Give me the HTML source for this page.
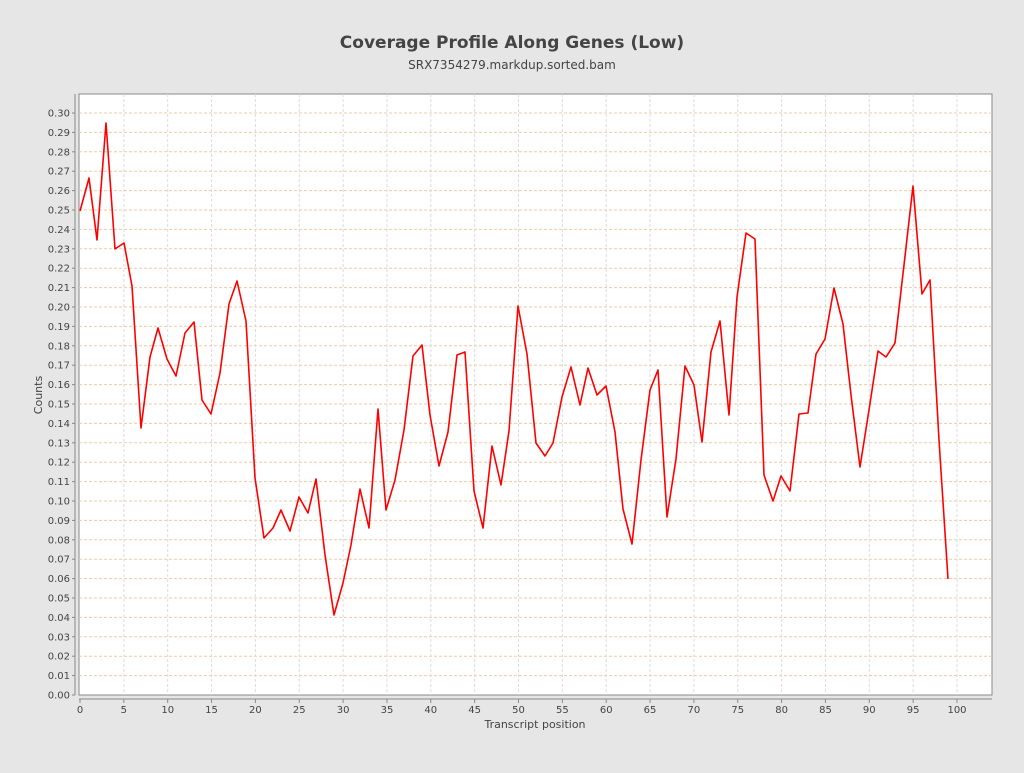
<!DOCTYPE html>
<html><head><meta charset="utf-8"><style>
body{margin:0;background:#e6e6e6;width:1024px;height:768px;overflow:hidden;font-family:"Liberation Sans","DejaVu Sans",sans-serif;}
</style></head><body>
<svg width="1024" height="768" xmlns="http://www.w3.org/2000/svg" font-family="DejaVu Sans, Liberation Sans, sans-serif">
<rect width="1024" height="768" fill="#e6e6e6"/>
<text x="512" y="48" text-anchor="middle" font-size="17" font-weight="bold" fill="#444">Coverage Profile Along Genes (Low)</text>
<text x="512" y="69" text-anchor="middle" font-size="12" fill="#444">SRX7354279.markdup.sorted.bam</text>
<rect x="79" y="94" width="913" height="601" fill="#fff" stroke="#888"/>
<g id="grid"></g>
<polyline fill="none" stroke="#f00" stroke-width="1.6" stroke-linejoin="round" points="80,211 89,178 97,240 106,123 115,249 124,243 132,286 141,428 150,357 158,328 167,359 176,376 185,333 194,322 202,400 211,414 220,373 229,304 237,281 246,321 255,478 264,538 273,528 281,510 290,531 299,497 308,513 316,479 325,555 334,615 343,583 351,545 360,489 369,528 378,409 386,510 395,480 404,430 413,356 422,345 430,415 439,466 448,432 457,355 465,352 474,491 483,528 492,446 501,485 509,431 518,306 527,354 536,443 545,456 553,443 562,397 571,367 580,405 588,368 597,395 606,386 615,432 623,509 632,544 641,460 650,390 658,370 667,517 676,459 685,366 694,385 702,442 711,352 720,321 729,415 737,297 746,233 755,239 764,475 773,501 781,476 790,491 799,414 808,413 816,354 825,339 834,288 843,324 851,395 860,467 869,410 878,351 886,357 895,343 904,265 913,186 922,294 930,280 939,440 948,579"/>
<line x1="75" y1="94" x2="75" y2="695" stroke="#888"/>
<line x1="79" y1="699" x2="992" y2="699" stroke="#888"/>
<g id="ax" font-size="10" fill="#444"></g>
<text x="535" y="728" text-anchor="middle" font-size="11" fill="#444">Transcript position</text>
<text x="42" y="395" text-anchor="middle" font-size="11" fill="#444" transform="rotate(-90 42 395)">Counts</text>
</svg>
<script>
var ns="http://www.w3.org/2000/svg",g=document.getElementById("grid"),ax=document.getElementById("ax");
function el(p,t,a,txt){var e=document.createElementNS(ns,t);for(var k in a)e.setAttribute(k,a[k]);if(txt!=null)e.textContent=txt;p.appendChild(e);}
for(var i=0;i<=30;i++){var y=695-i*582/30;
 if(i>0)el(g,"line",{x1:79,x2:992,y1:y,y2:y,stroke:"#f3c9a4","stroke-dasharray":"3,2","stroke-width":1});
 el(ax,"line",{x1:72,x2:75,y1:y,y2:y,stroke:"#888"});
 el(ax,"text",{x:70,y:y+3.5,"text-anchor":"end"},(i/100).toFixed(2));}
for(var j=0;j<=20;j++){var x=80+j*5*8.77;
 if(j>0&&x<992)el(g,"line",{x1:x,x2:x,y1:94,y2:695,stroke:"#dcdcdc","stroke-dasharray":"3,2"});
 el(ax,"line",{x1:x,x2:x,y1:699,y2:703,stroke:"#888"});
 el(ax,"text",{x:x,y:713,"text-anchor":"middle"},String(j*5));}
</script>
</body></html>
